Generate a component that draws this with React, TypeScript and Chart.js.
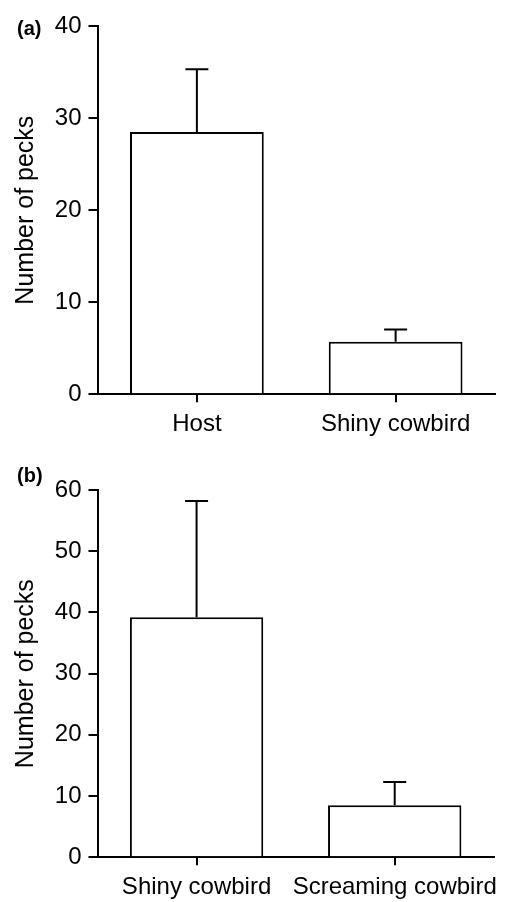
import React, { useEffect, useRef } from "react";
import { Chart, registerables } from "chart.js";

Chart.register(...registerables);

const categoriesA = ["Host", "Shiny cowbird"];
const valuesA = [28.5, 5.7];
const errorsA = [6.8, 1.35];
const yMaxA = 40;

const categoriesB = ["Shiny cowbird", "Screaming cowbird"];
const valuesB = [39.2, 8.5];
const errorsB = [19.0, 3.8];
const yMaxB = 60;

const yStep = 10;
const yTitle = "Number of pecks";
const FONT = "'Liberation Sans', Arial, Helvetica, sans-serif";

type PanelProps = {
  tag: string;
  categories: string[];
  values: number[];
  errors: number[];
  yMax: number;
  canvasHeight: number;
  plotTop: number;
  plotBottom: number;
  tagY: number;
};

function Panel(props: PanelProps) {
  const ref = useRef<HTMLCanvasElement | null>(null);
  useEffect(() => {
    const canvas = ref.current;
    if (!canvas) return;
    const { tag, categories, values, errors, yMax, canvasHeight, plotTop, plotBottom, tagY } = props;

    const errorBars = {
      id: "errorBars",
      afterDatasetsDraw(chart: any) {
        const ctx = chart.ctx;
        const xs = chart.scales.x;
        const ys = chart.scales.y;
        ctx.save();
        ctx.strokeStyle = "#000";
        ctx.lineWidth = 2;
        values.forEach((v, i) => {
          const x = xs.getPixelForValue(i);
          const y0 = ys.getPixelForValue(v);
          const y1 = ys.getPixelForValue(v + errors[i]);
          ctx.beginPath();
          ctx.moveTo(x, y0);
          ctx.lineTo(x, y1);
          ctx.moveTo(x - 11.5, y1);
          ctx.lineTo(x + 11.5, y1);
          ctx.stroke();
        });
        ctx.restore();
      },
    };

    const tagPlugin = {
      id: "tagLabel",
      afterDraw(chart: any) {
        const ctx = chart.ctx;
        ctx.save();
        ctx.fillStyle = "#000";
        ctx.font = `bold 20px ${FONT}`;
        ctx.textBaseline = "middle";
        ctx.textAlign = "left";
        ctx.fillText(tag, 17, tagY);
        ctx.restore();
      },
    };

    const chart = new Chart(canvas, {
      type: "bar",
      data: {
        labels: categories,
        datasets: [
          {
            data: values,
            backgroundColor: "#ffffff",
            borderColor: "#000000",
            borderWidth: 2,
            borderSkipped: "bottom",
            barPercentage: 0.673,
            categoryPercentage: 1,
          },
        ],
      },
      options: {
        responsive: false,
        maintainAspectRatio: false,
        animation: false,
        events: [],
        layout: { padding: { top: plotTop, right: 13, bottom: 0, left: 0 } },
        plugins: {
          legend: { display: false },
          tooltip: { enabled: false },
          title: { display: false },
        },
        scales: {
          x: {
            type: "category",
            offset: true,
            grid: {
              offset: false,
              display: true,
              drawOnChartArea: false,
              drawTicks: true,
              tickLength: 8,
              color: "#000",
              lineWidth: 2,
            },
            border: { display: true, color: "#000", width: 2 },
            ticks: {
              color: "#000",
              font: { family: FONT, size: 24 },
              padding: 8,
              maxRotation: 0,
              autoSkip: false,
            },
            afterFit: (scale: any) => {
              scale.height = canvasHeight - plotBottom;
            },
          },
          y: {
            type: "linear",
            min: 0,
            max: yMax,
            ticks: {
              stepSize: yStep,
              color: "#000",
              font: { family: FONT, size: 24 },
              padding: 7,
            },
            grid: {
              display: true,
              drawOnChartArea: false,
              drawTicks: true,
              tickLength: 9,
              color: "#000",
              lineWidth: 2,
            },
            border: { display: true, color: "#000", width: 2 },
            title: {
              display: true,
              text: yTitle,
              color: "#000",
              font: { family: FONT, size: 25 },
              padding: { top: 11, bottom: 0 },
            },
            afterFit: (scale: any) => {
              scale.width = 97.5;
            },
          },
        },
      },
      plugins: [errorBars, tagPlugin],
    } as any);
    return () => chart.destroy();
  }, []);
  return (
    <canvas
      ref={ref}
      width={508}
      height={props.canvasHeight}
      style={{ display: "block", width: 508, height: props.canvasHeight }}
    />
  );
}

export default function App() {
  return (
    <div style={{ position: "absolute", left: 0, top: 0, width: 508, height: 902, background: "#fff" }}>
      <Panel
        tag="(a)"
        categories={categoriesA}
        values={valuesA}
        errors={errorsA}
        yMax={yMaxA}
        canvasHeight={450}
        plotTop={26}
        plotBottom={394.3}
        tagY={29}
      />
      <Panel
        tag="(b)"
        categories={categoriesB}
        values={valuesB}
        errors={errorsB}
        yMax={yMaxB}
        canvasHeight={452}
        plotTop={40}
        plotBottom={407.3}
        tagY={26}
      />
    </div>
  );
}
